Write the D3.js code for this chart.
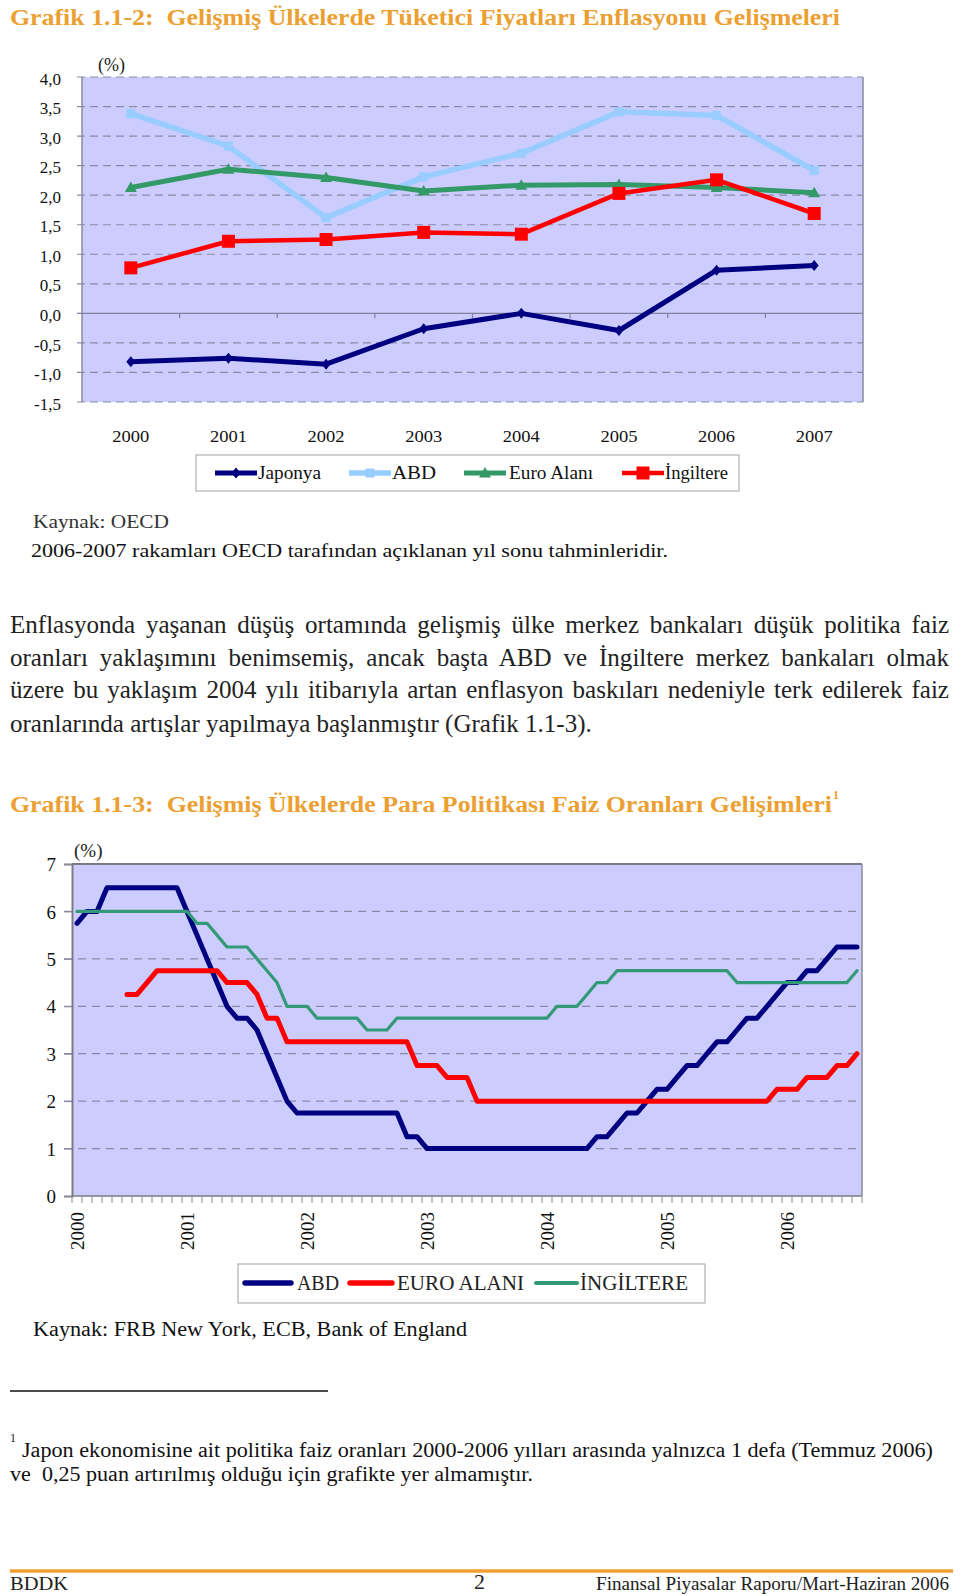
<!DOCTYPE html>
<html><head><meta charset="utf-8">
<script src="https://cdn.jsdelivr.net/npm/d3@7"></script>
<style>body{margin:0;background:#fff}svg{display:block}</style>
</head><body>
<svg id="page" width="960" height="1596"></svg>
<script>
// ---------- Chart 1 data: CPI inflation (%) ----------
const cpiYears = ['2000','2001','2002','2003','2004','2005','2006','2007'];
const cpiYTicks = [-1.5,-1,-0.5,0,0.5,1,1.5,2,2.5,3,3.5,4];
const cpiJaponya   = [-0.82,-0.76,-0.86,-0.26,0.00,-0.29,0.73,0.81];
const cpiABD       = [3.38,2.83,1.62,2.31,2.71,3.41,3.35,2.42];
const cpiEuro      = [2.13,2.44,2.30,2.07,2.17,2.18,2.13,2.04];
const cpiIngiltere = [0.77,1.22,1.25,1.37,1.34,2.03,2.26,1.69];

// ---------- Chart 2 data: policy rates (%), monthly Feb 2000 - Aug 2006 ----------
const rateYTicks = [0,1,2,3,4,5,6,7];
const rateTickIndex = [0,11,23,35,47,59,71];
const rateTickLabels = ['2000','2001','2002','2003','2004','2005','2006'];
const rateABD = [5.75,6.00,6.00,6.50,6.50,6.50,6.50,6.50,6.50,6.50,6.50,
  6.00,5.50,5.00,4.50,4.00,3.75,3.75,3.50,3.00,2.50,2.00,
  1.75,1.75,1.75,1.75,1.75,1.75,1.75,1.75,1.75,1.75,1.75,
  1.25,1.25,
  1.00,1.00,1.00,1.00,1.00,1.00,1.00,1.00,1.00,1.00,1.00,1.00,1.00,1.00,1.00,1.00,1.00,
  1.25,1.25,1.50,1.75,1.75,2.00,2.25,2.25,2.50,2.75,2.75,3.00,3.25,3.25,3.50,3.75,3.75,4.00,4.25,4.50,4.50,4.75,4.75,5.00,5.25,5.25,5.25];
const rateEuro = [null,null,null,null,null,
  4.25,4.25,4.50,
  4.75,4.75,4.75,4.75,4.75,4.75,4.75,
  4.50,4.50,4.50,
  4.25,3.75,3.75,
  3.25,3.25,3.25,3.25,3.25,3.25,3.25,3.25,3.25,3.25,3.25,3.25,3.25,
  2.75,2.75,2.75,
  2.50,2.50,2.50,
  2.00,2.00,2.00,2.00,2.00,2.00,2.00,2.00,2.00,2.00,2.00,2.00,2.00,2.00,2.00,
  2.00,2.00,2.00,2.00,2.00,2.00,2.00,2.00,2.00,2.00,2.00,2.00,2.00,2.00,2.00,
  2.25,2.25,2.25,
  2.50,2.50,2.50,
  2.75,2.75,3.00];
const rateIngiltere = [6.00,6.00,6.00,6.00,6.00,6.00,6.00,6.00,6.00,6.00,6.00,6.00,
  5.75,5.75,5.50,
  5.25,5.25,5.25,
  5.00,4.75,4.50,
  4.00,4.00,4.00,
  3.75,3.75,3.75,3.75,3.75,
  3.50,3.50,3.50,
  3.75,3.75,3.75,3.75,3.75,3.75,3.75,3.75,3.75,3.75,3.75,3.75,3.75,3.75,3.75,3.75,
  4.00,4.00,4.00,
  4.25,4.50,4.50,
  4.75,4.75,4.75,4.75,4.75,4.75,4.75,4.75,4.75,4.75,4.75,4.75,
  4.50,4.50,4.50,4.50,4.50,4.50,4.50,4.50,4.50,4.50,4.50,4.50,
  4.75];

// ---------- helpers ----------
const SERIF = "'Liberation Serif','Times New Roman',serif";
const ORANGE = '#EC9F32';
const GRID = '#8a8aa6';
const svg = d3.select('#page');

function txt(x, y, s, o = {}) {
  const t = svg.append('text').attr('x', x).attr('y', y).text(s)
    .attr('font-family', SERIF).attr('font-size', o.size || 18)
    .attr('fill', o.fill || '#111')
    .attr('font-weight', o.weight || 'normal')
    .attr('text-anchor', o.anchor || 'start');
  if (o.len) t.attr('textLength', o.len).attr('lengthAdjust', o.adjust || 'spacingAndGlyphs');
  return t;
}

// ---------- Title 1 ----------
txt(10, 25, 'Grafik 1.1-2:\u00A0 Gelişmiş Ülkelerde Tüketici Fiyatları Enflasyonu Gelişmeleri',
  {size: 23, weight: 'bold', fill: ORANGE, len: 830});

// ---------- Chart 1 ----------
(function () {
  const L = 82, R = 863, T = 77, B = 402;
  const x = d3.scaleBand().domain(cpiYears).range([L, R]);
  const y = d3.scaleLinear().domain([-1.5, 4]).range([B, T]);
  const bw = x.bandwidth();
  const g = svg.append('g');
  g.append('rect').attr('x', L).attr('y', T).attr('width', R - L).attr('height', B - T).attr('fill', '#CCCCFF');

  g.selectAll('line.grid').data(cpiYTicks.filter(d => d !== 0)).join('line')
    .attr('x1', L - 5).attr('x2', R).attr('y1', d => y(d)).attr('y2', d => y(d))
    .attr('stroke', GRID).attr('stroke-width', 1.2).attr('stroke-dasharray', '8,5');
  g.append('line').attr('x1', L - 5).attr('x2', R).attr('y1', y(0)).attr('y2', y(0))
    .attr('stroke', '#80809a').attr('stroke-width', 1.2);
  g.selectAll('line.ct').data(cpiYears.slice(1)).join('line')
    .attr('x1', d => x(d)).attr('x2', d => x(d)).attr('y1', y(0)).attr('y2', y(0) + 5)
    .attr('stroke', '#80809a').attr('stroke-width', 1.2);
  g.append('line').attr('x1', L).attr('x2', L).attr('y1', T).attr('y2', B).attr('stroke', '#8a8aa0').attr('stroke-width', 1.5);
  g.append('line').attr('x1', R).attr('x2', R).attr('y1', T).attr('y2', B).attr('stroke', '#8a8aa0').attr('stroke-width', 1.5);

  const ya = d3.axisLeft(y).tickValues(cpiYTicks).tickSize(0).tickPadding(21)
    .tickFormat(d => d.toFixed(1).replace('.', ','));
  const yg = g.append('g').attr('transform', `translate(${L},0)`).call(ya);
  yg.select('.domain').remove();
  yg.selectAll('text').attr('font-family', SERIF).attr('font-size', 17).attr('fill', '#111').attr('dy', '0.42em');

  const xa = d3.axisBottom(x).tickSize(0).tickPadding(0);
  const xg = g.append('g').attr('transform', `translate(0,${B + 28})`).call(xa);
  xg.select('.domain').remove();
  xg.selectAll('text').attr('font-family', SERIF).attr('font-size', 17).attr('fill', '#111')
    .attr('textLength', 37).attr('lengthAdjust', 'spacingAndGlyphs');

  svg.append('text').attr('x', 98).attr('y', 71).text('(%)').attr('font-family', SERIF)
    .attr('font-size', 18).attr('fill', '#222');

  const series = [
    {name: 'Japonya', values: cpiJaponya, color: '#000080', w: 5, marker: 'diamond'},
    {name: 'ABD', values: cpiABD, color: '#99CCFF', w: 5.5, marker: 'smallsq'},
    {name: 'Euro Alanı', values: cpiEuro, color: '#339966', w: 5, marker: 'tri'},
    {name: 'İngiltere', values: cpiIngiltere, color: '#FF0000', w: 4.5, marker: 'bigsq'}
  ];
  const markerPath = {
    diamond: 'M0,-5.5L4.5,0L0,5.5L-4.5,0Z',
    smallsq: 'M-4.5,-4.5H4.5V4.5H-4.5Z',
    tri: 'M0,-6L6,4.5L-6,4.5Z',
    bigsq: 'M-6.5,-6.5H6.5V6.5H-6.5Z'
  };
  const line = d3.line().x((d, i) => x(cpiYears[i]) + bw / 2).y(d => y(d));
  series.forEach(s => {
    g.append('path').attr('d', line(s.values)).attr('fill', 'none')
      .attr('stroke', s.color).attr('stroke-width', s.w).attr('stroke-linejoin', 'round');
    g.selectAll(null).data(s.values).join('path')
      .attr('d', markerPath[s.marker])
      .attr('transform', (d, i) => `translate(${x(cpiYears[i]) + bw / 2},${y(d)})`)
      .attr('fill', s.color);
  });

  svg.append('rect').attr('x', 196).attr('y', 455).attr('width', 543).attr('height', 36)
    .attr('fill', '#fff').attr('stroke', '#a0a0a0').attr('stroke-width', 1);
  const lg = [[215, 257, 258, 63], [349, 391, 392, 44], [464, 506, 509, 84], [622, 664, 665, 63]];
  series.forEach((s, i) => {
    const [a, b, tx, tw] = lg[i];
    svg.append('line').attr('x1', a).attr('x2', b).attr('y1', 473).attr('y2', 473)
      .attr('stroke', s.color).attr('stroke-width', s.w);
    svg.append('path').attr('d', markerPath[s.marker]).attr('fill', s.color)
      .attr('transform', `translate(${(a + b) / 2},473)`);
    txt(tx, 479, s.name, {size: 18, len: tw});
  });
})();

txt(33, 528, 'Kaynak: OECD', {size: 19, len: 136, fill: '#333'});
txt(31, 557, '2006-2007 rakamları OECD tarafından açıklanan yıl sonu tahminleridir.', {size: 19, len: 637});

// ---------- Paragraph ----------
(function () {
  const lines = [
    'Enflasyonda yaşanan düşüş ortamında gelişmiş ülke merkez bankaları düşük politika faiz',
    'oranları yaklaşımını benimsemiş, ancak başta ABD ve İngiltere merkez bankaları olmak',
    'üzere bu yaklaşım 2004 yılı itibarıyla artan enflasyon baskıları nedeniyle terk edilerek faiz',
    'oranlarında artışlar yapılmaya başlanmıştır (Grafik 1.1-3).'
  ];
  const ys = [633, 666, 698, 732];
  const probe = txt(10, -100, lines[3], {size: 21});
  const w = probe.node().getComputedTextLength();
  probe.remove();
  const fs = 21 * 582 / w;
  lines.forEach((s, i) => {
    const t = txt(10, ys[i], s, {size: fs, fill: '#222'});
    if (i < 3) {
      const nw = t.node().getComputedTextLength();
      const n = s.split(' ').length - 1;
      t.attr('word-spacing', (939 - nw) / n);
    }
  });
})();

// ---------- Title 2 ----------
txt(10, 812, 'Grafik 1.1-3:\u00A0 Gelişmiş Ülkelerde Para Politikası Faiz Oranları Gelişimleri',
  {size: 23, weight: 'bold', fill: ORANGE, len: 822});
txt(833, 799, '1', {size: 12, weight: 'bold', fill: ORANGE});

// ---------- Chart 2 ----------
(function () {
  const L = 72, R = 862, T = 864, B = 1196;
  const x = d3.scaleBand().domain(d3.range(rateABD.length)).range([L, R]);
  const y = d3.scaleLinear().domain([0, 7]).range([B, T]);
  const bw = x.bandwidth();
  const g = svg.append('g');
  g.append('rect').attr('x', L).attr('y', T).attr('width', R - L).attr('height', B - T).attr('fill', '#CCCCFF');

  g.selectAll('line.grid').data(rateYTicks.filter(d => d > 0 && d < 7)).join('line')
    .attr('x1', L - 8).attr('x2', R).attr('y1', d => y(d)).attr('y2', d => y(d))
    .attr('stroke', GRID).attr('stroke-width', 1.2).attr('stroke-dasharray', '8,6');

  const ya = d3.axisLeft(y).tickValues(rateYTicks).tickSize(8).tickPadding(8).tickFormat(d3.format('d'));
  const yg = g.append('g').attr('transform', `translate(${L},0)`).call(ya);
  yg.select('.domain').attr('stroke', '#7a7a86').attr('stroke-width', 2);
  yg.selectAll('line').attr('stroke', '#8a8aa0');
  yg.selectAll('text').attr('font-family', SERIF).attr('font-size', 19).attr('fill', '#111').attr('dy', '0.35em');

  g.append('line').attr('x1', L).attr('x2', R).attr('y1', T).attr('y2', T).attr('stroke', '#7a7a86').attr('stroke-width', 2);
  g.append('line').attr('x1', R).attr('x2', R).attr('y1', T).attr('y2', B).attr('stroke', '#8a8a96').attr('stroke-width', 1.5);
  g.append('line').attr('x1', L).attr('x2', R).attr('y1', B).attr('y2', B).attr('stroke', '#7a7a86').attr('stroke-width', 1.5);
  g.selectAll('line.mt').data(d3.range(rateABD.length + 1)).join('line')
    .attr('x1', d => L + d * bw).attr('x2', d => L + d * bw).attr('y1', B).attr('y2', B + 7)
    .attr('stroke', '#8a8a96').attr('stroke-width', 1);

  g.selectAll('text.yr').data(rateTickIndex).join('text')
    .attr('transform', d => `translate(${x(d) + bw / 2},1212) rotate(-90)`)
    .attr('text-anchor', 'end').attr('dy', '0.35em')
    .attr('font-family', SERIF).attr('font-size', 19).attr('fill', '#111')
    .text((d, i) => rateTickLabels[i]);

  svg.append('text').attr('x', 74).attr('y', 857).text('(%)').attr('font-family', SERIF)
    .attr('font-size', 19).attr('fill', '#222');

  const series = [
    {name: 'ABD', values: rateABD, color: '#000080', w: 5},
    {name: 'EURO ALANI', values: rateEuro, color: '#FF0000', w: 5},
    {name: 'İNGİLTERE', values: rateIngiltere, color: '#339977', w: 3.2}
  ];
  const line = d3.line().defined(d => d !== null).x((d, i) => x(i) + bw / 2).y(d => y(d));
  series.forEach(s => {
    g.append('path').attr('d', line(s.values)).attr('fill', 'none')
      .attr('stroke', s.color).attr('stroke-width', s.w)
      .attr('stroke-linejoin', 'round').attr('stroke-linecap', 'round');
  });

  svg.append('rect').attr('x', 238).attr('y', 1264).attr('width', 467).attr('height', 39)
    .attr('fill', '#fff').attr('stroke', '#a0a0a0').attr('stroke-width', 1);
  const lg = [[245, 291, 297, 42], [350, 392, 397, 127], [536, 577, 580, 108]];
  series.forEach((s, i) => {
    const [a, b, tx, tw] = lg[i];
    svg.append('line').attr('x1', a).attr('x2', b).attr('y1', 1283).attr('y2', 1283)
      .attr('stroke', s.color).attr('stroke-width', i === 2 ? 4 : 5.5).attr('stroke-linecap', 'round');
    txt(tx, 1290, s.name, {size: 20, len: tw, fill: '#222'});
  });
})();

txt(33, 1336, 'Kaynak: FRB New York, ECB, Bank of England', {size: 20, len: 434});

// footnote
svg.append('line').attr('x1', 10).attr('x2', 328).attr('y1', 1391).attr('y2', 1391)
  .attr('stroke', '#111').attr('stroke-width', 1.3);
txt(10, 1442, '1', {size: 12});
txt(22, 1457, 'Japon ekonomisine ait politika faiz oranları 2000-2006 yılları arasında yalnızca 1 defa (Temmuz 2006)', {size: 20, len: 911});
txt(10, 1481, 've \u00A00,25 puan artırılmış olduğu için grafikte yer almamıştır.', {size: 20, len: 523});

// footer
svg.append('line').attr('x1', 10).attr('x2', 953).attr('y1', 1571).attr('y2', 1571)
  .attr('stroke', '#F0A030').attr('stroke-width', 3.5);
txt(10, 1590, 'BDDK', {size: 18, len: 58, fill: '#222'});
txt(474, 1589, '2', {size: 22, fill: '#222'});
txt(596, 1590, 'Finansal Piyasalar Raporu/Mart-Haziran 2006', {size: 18, len: 353, fill: '#222'});
</script>
</body></html>
